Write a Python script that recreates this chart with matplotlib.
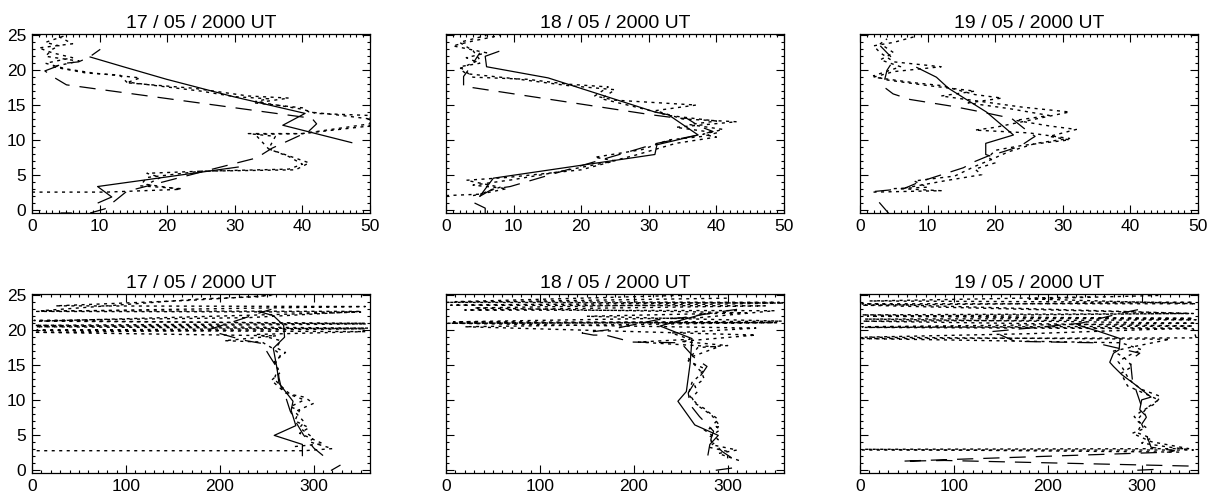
import numpy as np
import matplotlib
matplotlib.use("Agg")
import matplotlib.pyplot as plt
from matplotlib.ticker import MultipleLocator

plt.rcParams['font.family'] = ['Liberation Sans', 'DejaVu Sans']

nan = np.nan
titles = ["17 / 05 / 2000 UT", "18 / 05 / 2000 UT", "19 / 05 / 2000 UT"]

# ---- wind speed (top row) ----
spd_solid = [
    ([5.8, 5.8, 4.3, nan, 9.8, 11.8, 9.7, 30.5, nan, 47.3, 37.1, 40.4, 29.8, 19.9, 13.5, 8.6],
     [-0.5, -0.5, -0.5, nan, 0.96, 1.8, 3.3, 6.1, nan, 9.6, 12.1, 13.8, 16.2, 18.7, 20.5, 21.9]),
    ([5.8, 5.8, 4.3, nan, 5.0, 7.0, 30.9, 31.2, 37.3, 32.9, 30.9, 15.1, 6.0, 5.8, 7.8],
     [-0.5, 0.2, 0.9, nan, 1.9, 4.5, 7.9, 9.3, 10.7, 13.6, 14.0, 18.9, 20.5, 22.0, 22.7]),
    ([4.2, 2.9, nan, 19.2, 18.6, 18.6, 22.7, 18.7, 13.1, 11.3, 8.4],
     [-0.5, 0.96, nan, 7.7, 7.9, 9.5, 10.7, 14.0, 17.4, 19.0, 20.4]),
]
spd_dash = [
    ([8.6, 10.8, 14.0, 26.3, 33.2, 35.5, 40.9, 42.1, 41.4, 5.1, 3.2, 1.9, 4.9, 6.9, 8.5, 10.1],
     [-0.5, 0.1, 2.6, 5.7, 7.4, 8.8, 11.2, 12.3, 13.1, 17.9, 19.0, 19.9, 21.0, 21.2, 21.9, 23.0]),
    ([5.0, 6.8, 9.5, 28.1, 31.2, 37.3, 39.5, 37.6, 35.6, 34.4, 30.4, 2.6, 2.6, 3.8, 5.0],
     [1.9, 2.9, 3.3, 8.6, 9.5, 10.7, 11.2, 11.9, 13.1, 13.1, 13.6, 17.7, 19.1, 20.7, 22.5]),
    ([2.2, 6.5, 8.9, 15.3, 17.0, 19.0, 21.2, 23.7, 25.4, 25.9, 24.2, 22.4, 18.0, 13.8, 7.4, 4.9, 3.4, 4.0, 5.0, 3.0],
     [2.6, 3.0, 4.0, 6.0, 6.9, 7.7, 8.3, 9.1, 10.2, 10.5, 11.7, 13.1, 14.0, 14.8, 15.8, 16.6, 17.7, 20.0, 21.5, 23.5]),
]
spd_dot1 = [
    ([0, 11, 22, 17, 19, 17, 25, 38, 40, 38, 35, 33, 40, 50, 50, 45, 41, 40, 33, 38, 32, 24, 14, 16, 9, 5, 2, 6, 3, 1, 6, 4],
     [2.5, 2.5, 2.9, 3.6, 4.6, 5.2, 5.5, 5.8, 6.5, 7.6, 8.7, 10.8, 10.9, 12.3, 13.0, 13.6, 14.0, 14.6, 15.3, 16.0, 16.3, 17.4, 18.2, 18.9, 19.6, 20.2, 21.0, 21.8, 22.5, 23.2, 23.8, 24.8]),
    ([0, 5, 8, 3, 9, 20, 25, 22, 29, 33, 38, 40, 34, 43, 35, 31, 37, 25, 22, 24, 18, 12, 4, 2, 5, 3, 6, 1, 4, 8],
     [2.0, 2.2, 3.2, 4.2, 4.6, 5.7, 7.0, 7.5, 8.6, 10.0, 10.5, 11.0, 11.8, 12.6, 13.0, 14.2, 15.0, 15.7, 16.3, 17.6, 18.0, 18.7, 19.0, 20.5, 21.0, 21.8, 22.5, 23.5, 24.2, 25.0]),
    ([2, 12, 6, 9, 13, 18, 17, 20, 19, 20, 24, 31, 28, 32, 28, 23, 28, 22, 16, 21, 17, 12, 8, 2, 5, 12, 5, 3, 2, 5, 8],
     [2.5, 2.7, 3.0, 3.5, 4.2, 5.0, 5.8, 6.7, 7.5, 8.5, 9.2, 10.0, 10.5, 11.5, 12.0, 12.8, 13.5, 14.5, 15.3, 16.0, 16.5, 17.8, 18.2, 19.0, 19.8, 20.5, 21.2, 22.5, 23.5, 24.0, 24.8]),
]
spd_dot2 = [
    ([22, 16, 17, 25, 39, 41, 35, 36, 32, 40, 50, 50, 42, 40, 33, 35, 30, 25, 14, 13, 8, 3, 7, 2, 3, 4, 2, 5],
     [3.0, 3.4, 4.6, 5.5, 5.7, 6.7, 8.7, 10.5, 10.9, 10.9, 12.0, 13.5, 13.8, 14.4, 15.5, 15.9, 16.2, 17.0, 18.3, 19.3, 19.6, 20.5, 21.3, 22.0, 23.0, 23.5, 24.0, 25.0]),
    ([4, 9, 4, 10, 16, 24, 28, 34, 40, 38, 41, 36, 40, 33, 29, 23, 25, 18, 10, 3, 2, 5, 4, 2, 6],
     [2.0, 3.0, 3.5, 4.3, 5.3, 6.8, 7.8, 9.5, 10.4, 10.8, 11.5, 12.2, 12.7, 13.5, 14.5, 15.9, 17.2, 17.8, 18.8, 19.5, 20.2, 21.5, 22.8, 24.0, 25.0]),
    ([5, 10, 8, 14, 17, 19, 22, 26, 31, 25, 17, 20, 27, 31, 24, 18, 12, 17, 10, 4, 2, 6, 3, 5, 3, 4],
     [3.0, 3.2, 4.1, 4.8, 6.2, 7.0, 8.3, 9.5, 10.2, 11.0, 11.4, 11.8, 13.2, 14.0, 14.7, 15.5, 16.3, 17.0, 17.8, 18.6, 19.2, 20.5, 21.5, 22.5, 23.8, 24.5]),
]

# ---- wind direction (bottom row) ----
dir_solid = [
    ([319, 328, nan, 288, 288, 258, 281, 276, 278, 263, 261, 257, 269, 268, 257, 241],
     [-0.1, 0.6, nan, 2.0, 3.6, 4.9, 6.3, 8.5, 9.8, 12.4, 14.5, 17.4, 19.0, 20.7, 22.1, 22.7]),
    ([288, 304, nan, 279, 281, 290, 265, 247, 256, 260, 262, 228, 276],
     [-0.1, 0.2, nan, 2.1, 3.6, 4.9, 6.4, 9.8, 11.2, 15.2, 18.8, 20.6, 22.4]),
    ([296, 312, nan, 303, 298, 300, 310, 292, 279, 270, 266, 270, 276, 277, 255, 233],
     [-0.1, 0.0, nan, 7.9, 8.6, 10.0, 10.4, 12.3, 13.6, 14.8, 15.4, 16.7, 17.2, 18.8, 19.8, 20.7]),
]
dir_dash = [
    ([310, 300, 289, 282, 275, 270, 265, 263, 262, 253, 245, 228, 214, 198, 189, 209, 223, 245, 255],
     [2.0, 3.1, 5.0, 6.6, 8.4, 10.5, 12.0, 13.2, 14.4, 16.3, 18.1, 18.5, 19.0, 19.6, 20.1, 21.0, 21.6, 22.6, 23.0]),
    ([304, 294, 282, 285, 270, 260, 258, 264, 273, 278, 265, 250, 198, 184, 170, 157, 145, 175, 200, 225, 252, 295, 310],
     [1.7, 2.6, 4.3, 5.5, 7.6, 9.3, 11.0, 12.3, 13.8, 14.8, 16.0, 18.2, 18.3, 18.8, 19.3, 19.3, 19.6, 20.1, 20.8, 21.5, 21.8, 22.7, 23.0]),
    ([350, 90, 45, 330, 335, 310, 305, 300, 305, 300, 295, 290, 288, 298, 250, 165, 150, 140, 180, 235, 280, 305],
     [0.5, 1.3, 1.2, 2.5, 2.7, 3.2, 5.0, 6.5, 7.5, 9.0, 11.0, 13.0, 15.7, 16.7, 18.2, 18.4, 19.3, 19.8, 20.3, 21.0, 22.5, 23.2]),
]
dir_dot1 = [
    ([5, 290, 320, 295, 300, 285, 290, 280, 300, 290, 275, 265, 258, 262, 258, 270, 260, 265, 240, 355, 5, 358, 3, 355, 8, 270, 350, 5, 250, 355, 25, 170, 255],
     [2.7, 2.7, 3.0, 4.0, 4.5, 6.0, 6.8, 8.3, 9.5, 10.4, 10.8, 12.0, 13.0, 14.5, 15.5, 16.8, 17.5, 18.5, 19.4, 19.8, 20.0, 20.3, 20.7, 21.0, 21.3, 22.3, 22.6, 22.7, 23.2, 23.4, 23.5, 24.3, 25.0]),
    ([312, 290, 310, 285, 280, 292, 285, 290, 280, 276, 265, 262, 268, 265, 275, 272, 265, 258, 290, 205, 260, 240, 330, 5, 355, 8, 270, 350, 20, 340, 5, 355, 10, 250],
     [1.3, 2.3, 2.8, 3.5, 4.6, 5.7, 6.5, 7.2, 8.2, 8.7, 9.5, 10.3, 11.2, 12.0, 13.0, 14.0, 15.0, 16.0, 17.6, 18.3, 18.7, 19.6, 20.3, 21.0, 21.1, 21.2, 21.8, 22.8, 22.9, 23.5, 23.6, 24.0, 24.1, 25.0]),
    ([2, 355, 330, 300, 310, 295, 300, 292, 300, 315, 320, 300, 290, 285, 280, 275, 285, 300, 278, 2, 358, 355, 5, 355, 3, 358, 2, 355, 2, 358, 180, 320],
     [2.8, 2.8, 3.2, 3.8, 4.5, 5.3, 6.5, 7.6, 8.4, 9.5, 10.5, 11.5, 12.5, 13.3, 14.5, 15.5, 16.3, 17.2, 18.2, 18.8, 18.9, 20.2, 20.4, 20.6, 21.3, 21.5, 22.2, 22.4, 23.8, 23.8, 24.5, 25.0]),
]
dir_dot2 = [
    ([280, 310, 285, 295, 280, 285, 275, 290, 270, 255, 265, 258, 265, 255, 245, 205, 260, 2, 355, 4, 356, 2, 230, 350, 10, 180, 240, 260],
     [3.3, 3.7, 5.2, 6.0, 7.0, 8.5, 9.0, 10.0, 11.0, 12.8, 14.0, 15.0, 16.5, 17.5, 18.3, 18.5, 19.2, 19.7, 20.2, 20.5, 20.9, 21.4, 21.8, 22.7, 22.8, 24.5, 24.8, 25.2]),
    ([300, 300, 280, 290, 275, 292, 283, 270, 258, 262, 270, 275, 258, 268, 300, 250, 330, 20, 350, 2, 358, 150, 320, 30, 360, 0, 300],
     [1.6, 2.6, 3.2, 4.3, 5.7, 6.2, 7.8, 9.0, 10.8, 12.5, 13.5, 14.5, 15.6, 17.5, 17.8, 18.4, 19.3, 20.5, 21.1, 21.0, 21.3, 22.0, 22.5, 23.2, 23.9, 24.0, 24.6]),
    ([340, 5, 350, 310, 290, 305, 295, 305, 318, 305, 285, 278, 290, 282, 270, 290, 330, 5, 180, 350, 2, 358, 5, 355, 8, 350, 2, 355, 10, 250],
     [2.5, 2.9, 3.0, 4.0, 5.2, 6.0, 7.0, 8.8, 10.0, 10.8, 12.0, 13.8, 14.8, 16.0, 17.0, 17.6, 18.7, 19.0, 19.5, 20.3, 20.5, 21.0, 21.6, 21.7, 22.0, 22.4, 23.6, 24.0, 24.2, 24.8]),
]

fig = plt.figure(figsize=(12.16, 4.97), dpi=100)
W, H = 1216.0, 497.0
col_left = [32, 446, 860]
row_top = [34, 294]
box_w, box_h = 338, 179

dot_style = (0, (2.2, 3.2))
dash_style = (0, (13, 8))

for r in range(2):
    for c in range(3):
        ax = fig.add_axes([col_left[c] / W, 1 - (row_top[r] + box_h) / H, box_w / W, box_h / H])
        if r == 0:
            s, d, d1, d2 = spd_solid[c], spd_dash[c], spd_dot1[c], spd_dot2[c]
            ax.set_xlim(0, 50)
            ax.xaxis.set_major_locator(MultipleLocator(10))
            ax.xaxis.set_minor_locator(MultipleLocator(1))
        else:
            s, d, d1, d2 = dir_solid[c], dir_dash[c], dir_dot1[c], dir_dot2[c]
            ax.set_xlim(0, 360)
            ax.xaxis.set_major_locator(MultipleLocator(100))
            ax.xaxis.set_minor_locator(MultipleLocator(10))
        ax.plot(d1[0], d1[1], color='black', lw=1.0, linestyle=dot_style)
        ax.plot(d2[0], d2[1], color='black', lw=1.0, linestyle=dot_style)
        ax.plot(d[0], d[1], color='black', lw=0.9, linestyle=dash_style)
        ax.plot(s[0], s[1], color='black', lw=0.9, linestyle='-')
        ax.set_ylim(-0.5, 25.2)
        ax.yaxis.set_major_locator(MultipleLocator(5))
        ax.yaxis.set_minor_locator(MultipleLocator(1))
        ax.tick_params(which='both', direction='in', top=True, right=True, labelsize=12.5, width=0.8, pad=4)
        ax.tick_params(which='major', length=5.5)
        ax.tick_params(which='minor', length=2.5)
        if c > 0:
            ax.tick_params(labelleft=False)
        for sp in ax.spines.values():
            sp.set_linewidth(0.9)
        ax.set_title(titles[c], fontsize=14, pad=4)

fig.savefig("out.png", dpi=100)
